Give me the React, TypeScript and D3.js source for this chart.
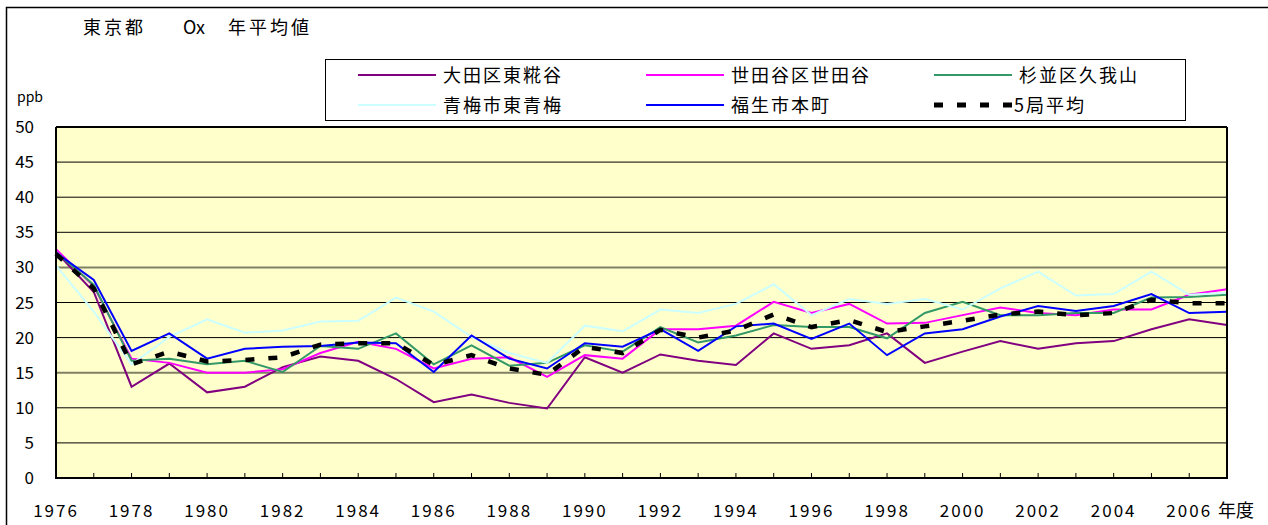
import React from 'react';
import * as d3 from 'd3';

const years = d3.range(1976, 2008);
const yTicks = [0, 5, 10, 15, 20, 25, 30, 35, 40, 45, 50];

const ota = [32.2, 26.5, 13.0, 16.3, 12.2, 13.0, 15.8, 17.3, 16.7, 14.1, 10.8, 11.9, 10.7, 9.9, 17.2, 15.0,
  17.6, 16.7, 16.1, 20.6, 18.4, 18.9, 20.6, 16.4, 18.0, 19.5, 18.4, 19.2, 19.5, 21.2, 22.6, 21.8];
const setagaya = [32.6, 27.3, 17.0, 16.4, 15.0, 15.0, 15.5, 17.8, 19.4, 18.4, 15.6, 17.0, 17.2, 14.4, 17.5, 17.0,
  21.2, 21.2, 21.7, 25.1, 23.5, 24.8, 22.0, 22.1, 23.2, 24.3, 23.5, 23.2, 24.0, 24.0, 26.1, 26.9];
const suginami = [32.2, 27.5, 16.7, 17.0, 16.2, 16.7, 15.1, 18.8, 18.4, 20.6, 16.2, 18.9, 16.0, 16.4, 18.9, 18.0,
  21.5, 19.3, 20.3, 21.8, 21.5, 21.5, 19.9, 23.5, 25.1, 23.2, 23.2, 23.5, 23.5, 25.7, 25.8, 26.1];
const ome = [30.3, 23.7, 16.2, 20.1, 22.6, 20.7, 21.0, 22.3, 22.4, 25.7, 23.7, 20.1, 17.8, 16.4, 21.7, 20.9,
  24.0, 23.5, 24.8, 27.6, 23.2, 25.5, 24.8, 25.5, 24.0, 27.0, 29.4, 26.0, 26.2, 29.4, 26.1, 26.4];
const fussa = [32.1, 28.2, 18.1, 20.6, 17.0, 18.4, 18.7, 18.8, 19.3, 19.2, 15.1, 20.3, 17.0, 15.6, 19.2, 18.7,
  21.2, 18.1, 21.6, 22.0, 19.8, 22.0, 17.5, 20.6, 21.2, 23.0, 24.5, 23.8, 24.5, 26.2, 23.5, 23.7];
const avg5 = [31.9, 27.0, 16.2, 18.0, 16.6, 16.8, 17.2, 19.0, 19.2, 19.2, 16.1, 17.5, 15.6, 14.7, 18.7, 17.8,
  21.1, 20.0, 21.0, 23.3, 21.5, 22.5, 20.8, 21.6, 22.4, 23.3, 23.7, 23.2, 23.5, 25.4, 24.9, 24.9];

const series = [
  { name: '大田区東糀谷', values: ota, color: '#800080', dash: '' },
  { name: '世田谷区世田谷', values: setagaya, color: '#FF00FF', dash: '' },
  { name: '杉並区久我山', values: suginami, color: '#339966', dash: '' },
  { name: '青梅市東青梅', values: ome, color: '#CCFFFF', dash: '' },
  { name: '福生市本町', values: fussa, color: '#0000FF', dash: '' },
  { name: '5局平均', values: avg5, color: '#000000', dash: '9,14' },
];

const font = '"Noto Sans CJK JP", "Noto Sans", sans-serif';

const App: React.FC = () => {
  const width = 1268;
  const height = 525;
  const plot = { left: 56, right: 1227, top: 127, bottom: 478 };

  const x = d3.scaleLinear().domain([1976, 2007]).range([plot.left, plot.right]);
  const y = d3.scaleLinear().domain([0, 50]).range([plot.bottom, plot.top]);

  const line = d3
    .line<number>()
    .x((d, i) => x(years[i]))
    .y((d) => y(d));

  return (
    <svg
      width={width}
      height={height}
      style={{ position: 'absolute', left: 0, top: 0, fontFamily: font }}
    >
      <rect x={0} y={0} width={width} height={height} fill="#fff" />
      {/* outer frame */}
      <rect x={6.5} y={7.5} width={1300} height={600} fill="none" stroke="#000" strokeWidth={1.5} />

      {/* title */}
      <text x={83} y={34} fontSize={18} letterSpacing={3} fill="#000">
        東京都
      </text>
      <text x={183} y={34} fontSize={18} fill="#000">
        Ox
      </text>
      <text x={228} y={34} fontSize={18} letterSpacing={3} fill="#000">
        年平均値
      </text>

      {/* legend */}
      <rect x={325.5} y={59.5} width={860} height={61} fill="#fff" stroke="#000" strokeWidth={1} />
      {series.map((s, i) => {
        const col = i % 3;
        const row = Math.floor(i / 3);
        const lx = 358 + col * 288;
        const ly = 75 + row * 30;
        return (
          <g key={s.name}>
            <line
              x1={lx}
              x2={lx + 78}
              y1={ly}
              y2={ly}
              stroke={s.color}
              strokeWidth={s.dash ? 5 : 2}
              strokeDasharray={s.dash || undefined}
            />
            <text x={lx + (s.dash ? 80 : 85)} y={ly + 6.5} fontSize={18} letterSpacing={2} fill="#000">
              {s.name}
            </text>
          </g>
        );
      })}

      <text x={17} y={102} fontSize={14} fill="#000">
        ppb
      </text>

      {/* plot area */}
      <rect
        x={plot.left}
        y={plot.top}
        width={plot.right - plot.left}
        height={plot.bottom - plot.top}
        fill="#FFFFCC"
      />
      {yTicks.slice(1, -1).map((t) => (
        <line
          key={t}
          x1={plot.left}
          x2={plot.right}
          y1={y(t)}
          y2={y(t)}
          stroke={t === 15 || t === 30 ? '#808066' : '#000'}
          strokeWidth={t === 15 || t === 30 ? 2 : 1}
        />
      ))}

      {series.map((s) => (
        <path
          key={s.name}
          d={line(s.values) || ''}
          fill="none"
          stroke={s.color}
          strokeWidth={s.dash ? 4.5 : 2}
          strokeDasharray={s.dash || undefined}
          strokeLinejoin="miter"
        />
      ))}

      {/* plot border */}
      <line x1={plot.left} x2={plot.right} y1={plot.top} y2={plot.top} stroke="#000" strokeWidth={2} />
      <line x1={plot.right} x2={plot.right} y1={plot.top} y2={plot.bottom} stroke="#000" strokeWidth={2} />
      <line x1={plot.left} x2={plot.left} y1={plot.top} y2={plot.bottom + 1} stroke="#000" strokeWidth={2} />
      <line x1={plot.left} x2={plot.right + 1} y1={plot.bottom} y2={plot.bottom} stroke="#000" strokeWidth={2} />

      {/* x ticks */}
      {years.slice(0, -1).map((yr) => (
        <line key={yr} x1={x(yr)} x2={x(yr)} y1={plot.bottom} y2={plot.bottom - 5} stroke="#000" strokeWidth={1} />
      ))}
      {years
        .filter((yr) => yr % 2 === 0 && yr <= 2006)
        .map((yr) => (
          <text key={yr} x={x(yr)} y={517} fontSize={17} letterSpacing={2} textAnchor="middle" fill="#000">
            {yr}
          </text>
        ))}
      <text x={1218} y={517} fontSize={18} fill="#000">
        年度
      </text>

      {/* y tick labels */}
      {yTicks.map((t) => (
        <text key={t} x={34} y={y(t) + 6} fontSize={17} textAnchor="end" fill="#000">
          {t}
        </text>
      ))}
    </svg>
  );
};

export default App;
